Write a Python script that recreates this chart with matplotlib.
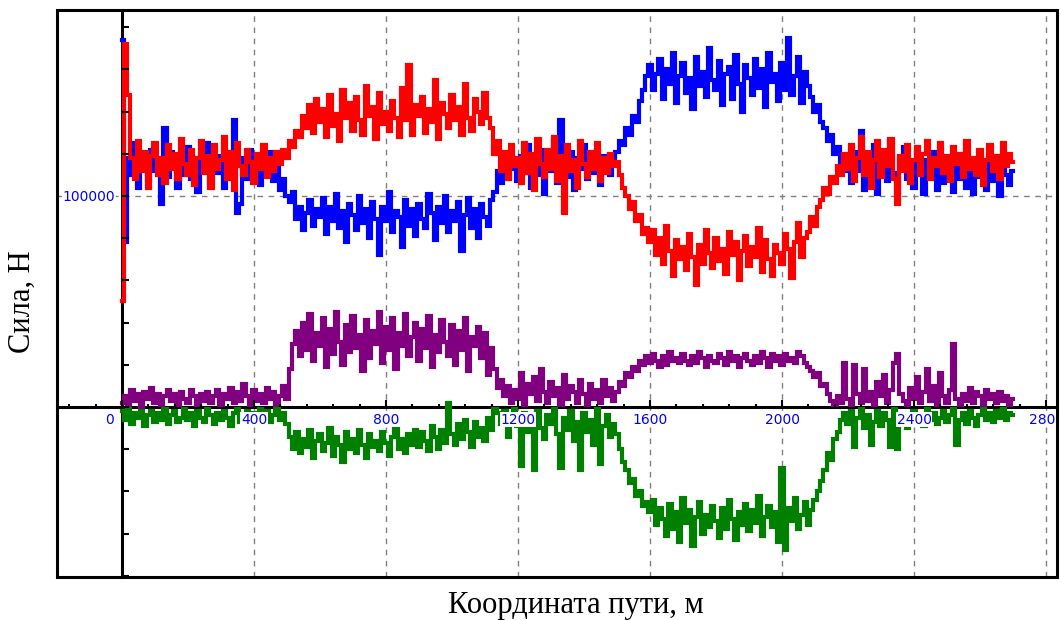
import numpy as np
import matplotlib
matplotlib.use('Agg')
import matplotlib.pyplot as plt
from matplotlib.ticker import FixedLocator, MultipleLocator, FuncFormatter
from matplotlib.patches import Rectangle

# path coordinate, m (one reading every 10 m)
path_m = np.arange(0, 2701, 10)

# forces, kN
force_red = [
    50, 172, 148, 118, 108, 126, 112, 121, 104, 119,
    125, 110, 118, 106, 124, 113, 120, 108, 127, 115,
    110, 122, 105, 118, 126, 111, 119, 104, 124, 113,
    117, 128, 108, 121, 103, 125, 114, 110, 122, 116,
    106, 120, 113, 124, 109, 118, 112, 121, 115, 122,
    118, 126, 123, 131, 128, 138, 132, 143, 130, 146,
    135, 141, 128, 148, 133, 139, 126, 150, 137, 144,
    131, 147, 136, 129, 152, 138, 142, 127, 149, 134,
    140, 131, 145, 137, 128, 151, 136, 162, 129, 143,
    138, 147, 130, 141, 135, 155, 127, 144, 139, 132,
    148, 136, 142, 129, 153, 137, 131, 146, 140, 134,
    149, 137, 132, 120, 126, 112, 121, 108, 124, 114,
    118, 106, 125, 111, 120, 103, 127, 115, 109, 122,
    113, 128, 107, 119, 92, 124, 112, 117, 104, 126,
    115, 109, 121, 113, 125, 107, 118, 111, 120, 114,
    116, 110, 104, 100, 94, 97, 88, 91, 82, 85,
    78, 84, 72, 80, 68, 86, 74, 62, 79, 70,
    76, 65, 82, 71, 58, 77, 68, 84, 73, 66,
    80, 69, 75, 63, 83, 72, 78, 60, 74, 81,
    67, 76, 71, 85, 64, 79, 70, 62, 77, 73,
    68, 82, 75, 61, 78, 87, 71, 80, 83, 90,
    86, 95, 98, 104, 101, 109, 106, 114, 110, 120,
    113, 124, 107, 118, 128, 110, 121, 104, 117, 126,
    109, 122, 114, 127, 108, 96, 119, 112, 124, 106,
    117, 123, 110, 120, 126, 108, 118, 114, 125, 111,
    119, 107, 123, 115, 120, 109, 126, 113, 118, 110,
    122, 105, 117, 124, 112, 119, 108, 125, 114, 120,
    116,
]

force_blue = [
    174, 78, 118, 110, 125, 104, 120, 113, 107, 122,
    112, 118, 96, 132, 109, 121, 114, 104, 119, 110,
    123, 108, 116, 102, 120, 113, 125, 106, 117, 111,
    119, 104, 121, 110, 136, 92, 96, 118, 108, 122,
    113, 119, 105, 116, 110, 121, 107, 114, 103, 108,
    100, 97, 102, 89, 95, 84, 92, 98, 86, 94,
    90, 99, 82, 95, 88, 101, 85, 93, 78, 96,
    91, 84, 100, 87, 94, 80, 97, 89, 72, 95,
    88, 102, 83, 93, 90, 76, 98, 86, 94, 81,
    96, 89, 85, 101, 92, 79, 95, 87, 100, 83,
    93, 88, 97, 74, 91, 99, 85, 94, 80, 96,
    90, 86, 98, 102, 112, 106, 117, 109, 121, 113,
    107, 119, 111, 124, 104, 116, 110, 122, 101, 118,
    112, 126, 106, 136, 115, 109, 121, 103, 118, 113,
    124, 108, 117, 111, 122, 105, 119, 114, 110, 118,
    121, 126, 124, 132, 129, 138, 135, 145, 150, 157,
    162, 150, 158, 165, 146, 160, 153, 168, 144, 157,
    163, 149, 156, 141, 166, 152, 159, 147, 170, 155,
    150, 164, 143, 158, 161, 146, 167, 153, 140, 162,
    156, 148, 165, 151, 160, 142, 168, 154, 158, 145,
    163, 150, 175, 148, 157, 166, 144, 159, 152, 147,
    140, 143, 135, 132, 126, 129, 120, 123, 116, 112,
    118, 106, 121, 112, 131, 103, 116, 109, 124, 101,
    114, 120, 107, 126, 111, 100, 117, 123, 108, 115,
    104, 119, 112, 101, 117, 109, 121, 103, 114, 106,
    118, 110, 102, 116, 108, 120, 104, 113, 101, 117,
    109, 115, 103, 118, 107, 112, 100, 116, 110, 105,
    112,
]

force_purple = [
    2, 5, 1, 8, 3, 6, 0, 7, 4, 9,
    2, 6, 1, 5, 8, 3, 6, 1, 7, 4,
    2, 8, 5, 1, 6, 3, 7, 2, 5, 8,
    1, 6, 4, 9, 2, 7, 3, 11, 5, 1,
    8, 3, 6, 2, 9, 4, 7, 1, 5, 10,
    4, 18, 30, 36, 24, 40, 27, 44, 22, 35,
    29, 42, 19, 37, 25, 45, 31, 20, 39, 26,
    43, 28, 34, 17, 41, 23, 36, 30, 45, 21,
    38, 27, 42, 18, 35, 29, 44, 24, 33, 40,
    22, 37, 28, 43, 19, 34, 26, 41, 31, 24,
    39, 20, 36, 27, 42, 17, 33, 29, 38, 23,
    35, 15, 28, 18, 9, 13, 5, 10, 2, 8,
    4, 16, 1, 11, 6, 14, 3, 18, 7, 2,
    12, 5, 9, 1, 15, 4, 10, 7, 2, 13,
    6, 1, 11, 4, 8, 2, 13, 5, 9, 3,
    7, 12, 10, 16, 14, 19, 17, 22, 20, 24,
    21, 25, 22, 19, 24, 20, 26, 22, 23, 21,
    25, 22, 20, 24, 21, 26, 23, 19, 24, 22,
    21, 25, 23, 20, 26, 22, 24, 19, 23, 25,
    22, 20, 24, 21, 26, 23, 19, 25, 22, 24,
    20, 25, 22, 23, 21, 26, 24, 21, 19, 17,
    14, 16, 10, 11, 6, 3, 1, 5, 2, 21,
    4, 1, 20, 6, 2, 18, 3, 7, 1, 12,
    5, 15, 2, 8, 21, 25, 6, 3, 1, 9,
    4, 14, 2, 7, 18, 3, 10, 1, 16, 5,
    2, 8, 30, 4, 1, 6, 3, 9, 2, 7,
    5, 1, 8, 4, 6, 2, 7, 3, 5, 1,
    4,
]

force_green = [
    -2, -6, -1, -8, -3, -5, -1, -9, -4, -2,
    -7, -3, -6, -1, -8, -4, -2, -7, -5, -1,
    -6, -3, -9, -2, -5, -7, -1, -4, -8, -3,
    -6, -2, -5, -9, -3, -1, -7, -4, -2, -6,
    -3, -8, -1, -5, -2, -7, -4, -1, -6, -3,
    -8, -14, -20, -12, -22, -15, -19, -11, -24, -16,
    -13, -21, -17, -10, -23, -14, -18, -26, -12, -20,
    -15, -22, -11, -18, -24, -13, -19, -16, -21, -12,
    -17, -23, -14, -10, -20, -15, -22, -13, -18, -11,
    -19, -12, -16, -21, -9, -14, -20, -11, -17, 2,
    -13, -18, -8, -15, -6, -12, -19, -7, -14, -10,
    -16, -5, -11, -1, -3, -8, -2, -14, -4, -1,
    -9, -28, -3, -12, -6, -30, -2, -10, -15, -4,
    -8, -1, -13, -29, -5, -11, -2, -16, -7, -30,
    -3, -12, -6, -18, -1, -27, -9, -4, -14, -8,
    -13, -20, -26, -30, -36, -34, -42, -40, -47, -45,
    -50, -44, -56, -48, -53, -61, -46, -58, -50, -64,
    -43, -55, -49, -66, -52, -45, -60, -51, -57, -47,
    -54, -62, -48, -58, -44, -53, -63, -50, -56, -46,
    -59, -49, -55, -42, -61, -52, -47, -57, -50, -64,
    -29, -68, -48, -54, -43, -58, -51, -45, -56, -49,
    -44, -40, -35, -30, -22, -25, -15, -12, -6, -3,
    -8, -2, -19, -5, -1, -10, -4, -18, -7, -2,
    -9, -3, -6, -19, -1, -20, -8, -4, -10, -5,
    -2, -7, -4, -9, -1, -6, -3, -8, -5, -2,
    -7, -4, -1, -18, -6, -3, -8, -2, -5, -9,
    -4, -1, -6, -3, -7, -2, -5, -1, -6, -3,
    -4,
]

x_major = [0, 400, 800, 1200, 1600, 2000, 2400, 2800]
y_major = [100000]

fig = plt.figure(figsize=(10.61, 6.2), dpi=100)
ax = fig.add_axes([57 / 1061, 43 / 620, 1000 / 1061, 567 / 620])

# dashed grid under the traces
for xv in x_major[1:]:
    ax.axvline(xv, color='#808080', lw=1.0, ls=(0, (4, 4)), zorder=1)
for yv in y_major:
    ax.axhline(yv, color='#808080', lw=1.0, ls=(0, (4, 4)), zorder=1)

series = [(force_green, '#008000'), (force_purple, '#800080'),
          (force_blue, '#0000ff'), (force_red, '#ff0000')]
for values, col in series:
    ax.plot(path_m, np.array(values) * 1000, color=col, lw=3.0,
            drawstyle='steps-mid', solid_joinstyle='miter', zorder=3)

ax.set_xlim(-197, 2833)
ax.set_ylim(-80570, 188150)

# axes crossing at the origin, plus the outer frame
ax.spines['left'].set_position(('data', 0))
ax.spines['bottom'].set_position(('data', 0))
for side in ['left', 'bottom']:
    ax.spines[side].set_linewidth(2.2)
    ax.spines[side].set_zorder(2.5)
ax.spines['top'].set_visible(False)
ax.spines['right'].set_visible(False)
ax.add_patch(Rectangle((0, 0), 1, 1, transform=ax.transAxes, fill=False,
                       lw=2.2, ec='black', clip_on=False, zorder=6))

ax.xaxis.set_major_locator(FixedLocator(x_major))
ax.xaxis.set_minor_locator(MultipleLocator(80))
ax.yaxis.set_major_locator(FixedLocator(y_major))
ax.yaxis.set_minor_locator(MultipleLocator(20000))
ax.xaxis.set_major_formatter(FuncFormatter(lambda v, p: '' if v == 0 else f'{v:.0f}'))
ax.yaxis.set_major_formatter(FuncFormatter(lambda v, p: f'{v:.0f}'))

ax.tick_params(axis='x', which='major', direction='in', length=5, width=1.5,
               color='black', labelcolor='blue', labelsize=10, pad=4)
ax.tick_params(axis='x', which='minor', direction='in', length=2.5, width=1.5,
               color='black')
ax.tick_params(axis='y', which='major', direction='in', length=5, width=1.5,
               color='black', labelcolor='blue', labelsize=10, pad=5)
ax.tick_params(axis='y', which='minor', direction='in', length=5, width=1.5,
               color='black')
ax.xaxis.set_zorder(4)
ax.yaxis.set_zorder(4)

box = dict(facecolor='white', edgecolor='none', pad=0.6)
for tick in ax.xaxis.get_major_ticks() + ax.yaxis.get_major_ticks():
    tick.label1.set_bbox(box)
    tick.label1.set_clip_box(ax.bbox)
    tick.label1.set_clip_on(True)

ax.annotate('0', xy=(0, 0), xytext=(-6, -4), textcoords='offset points',
            ha='right', va='top', color='blue', fontsize=10, zorder=5)

fig.text(576 / 1061, 1 - 605 / 620, 'Координата пути, м', ha='center', va='center',
         fontsize=22, family='Liberation Serif')
fig.text(22 / 1061, 1 - 302 / 620, 'Сила, Н', ha='center', va='center',
         rotation=90, fontsize=22, family='Liberation Serif')

fig.savefig('out.png', dpi=100)
